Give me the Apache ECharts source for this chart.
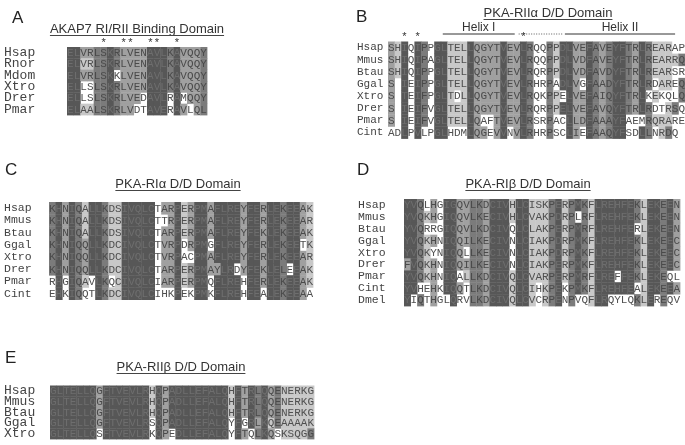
<!DOCTYPE html>
<html>
<head>
<meta charset="utf-8">
<script src="https://cdn.jsdelivr.net/npm/echarts@6/dist/echarts.min.js"></script>
<style>
  html, body { margin: 0; padding: 0; background: #fff; }
  #chart { width: 685px; height: 445px; }
</style>
</head>
<body>
<div id="chart"></div>
<script>
// shade levels: 0 = no box, 4 = darkest
const SHADES = ['#ffffff', '#c8c8c8', '#a0a0a0', '#7b7b7b', '#575757']
const INK = ['#4f4f4f', '#4f4f4f', '#4a4a4a', '#4a4a4a', '#6e6e6e']

// --- A: AKAP7 RI/RII binding domain
const akapNames = ['Hsap', 'Rnor', 'Mdom', 'Xtro', 'Drer', 'Pmar']
const akapSeqs = [
  'ELVRLSKRLVENAVLKAVQQY',
  'ELVRLSKRLVENAVLKAVQQY',
  'ELVRLSKKLVENAVLKAVQQY',
  'ELLSLSKRLVENAVLKAVQQY',
  'ELLSLSKRLVEDAVLRAMQQY',
  'ELAALSKRLVDTAVERAVLQL'
]
const akapBase = '442233432222444342223'
const akapFix = [[], [[2, 1], [3, 1]], [[7, 0]], [[2, 0], [3, 0]],
  [[2, 0], [3, 0], [11, 0], [15, 0], [17, 0]],
  [[2, 1], [3, 1], [10, 0], [11, 0], [15, 0], [18, 0]]]
const akapStars = [5, 8, 9, 12, 13, 16]

// --- B: PKA-RIIalpha D/D domain
const r2aNames = ['Hsap', 'Mmus', 'Btau', 'Ggal', 'Xtro', 'Drer', 'Pmar', 'Cint']
const r2aSeqs = [
  'SHIQIPPGLTELLQGYTVEVLRQQPPDLVEFAVEYFTRLREARAP',
  'SHIQIPAGLTELLQGYTVEVLRQQPPDLVDFAVEYFTRLREARRQ',
  'SHIQIPPGLTELLQGYTVEVLRQRPPDLVDFAVDYFTRLREARSR',
  'S-IEIPPGLTELLQGYTVEVLRHRPADLVGFAADYFTRLRDAREQ',
  'S-TEIFPGLTDLLQGYTVEVLRQKPPELVEFAIQYFTRLKEKQLQ',
  'S-IEIFVGLTELLQGYTVEVLRQRPPELVEFAVQYFTRLRDTRSQ',
  'S-IEIFVGLTELLQAFTVEVLRSRPACLLDFAAAYFAEMRQRARE',
  'ADLPVLPGLHDMLQGEVVNVLRHRPSCLIEFAAQYFSDLLNRDQ-'
]
const r2aBase = '214043044111422224224300314422432344324311100'
const r2aFix = [[], [[43, 1], [44, 3]], [],
  [[25, 0], [29, 0], [40, 0], [44, 3]],
  [[10, 0], [26, 0], [39, 0], [41, 0], [42, 0], [44, 3]],
  [[40, 0], [41, 0], [43, 3]],
  [[14, 0], [15, 0], [25, 0], [26, 0], [36, 0], [37, 0], [38, 0]],
  [[0, 0], [1, 0], [3, 0], [5, 0], [9, 0], [10, 0], [11, 0], [15, 0], [18, 0], [22, 0],
    [25, 0], [26, 0], [29, 0], [36, 0], [37, 0], [40, 0], [42, 3]]]
const r2aStars = [2, 4, 20]
// helix annotation spans, in column units
const r2aHelix = [[8.3, 19.2], [19.8, 26.4], [26.8, 43.5]]
const r2aHelixText = ['Helix I', '', 'Helix II']

// --- C: PKA-RIalpha D/D domain
const r1aNames = ['Hsap', 'Mmus', 'Btau', 'Ggal', 'Xtro', 'Drer', 'Pmar', 'Cint']
const r1aSeqs = [
  'KHNIQALLKDSIVQLCTARPERPMAFLREYFERLEKEEAK',
  'KHNIQALLKDSIVQLCTTRPERPMAFLREYFERLEKEEAR',
  'KHNIQALLKDSIVQLCTARPERPMAFLREYFEKLEKEEAK',
  'KHNIQQLLKDCIVQLCTVRPDRPMGFLREYFERLEKEETK',
  'KHNIQQLLKDCIVQLCTVRPACPMAFLREYFERLEKEEAR',
  'KHNIQQLLKDCIVQLCTARPERPMAYLRDYFEKLELEEAK',
  'RHGIQAVLKQCIVQLCIARPERPMQFLREHFERLEKEEAK',
  'EHKIQQTLKDCIVQLCIHKPEKPMKFLREHFEALEKEEAA'
]
const r1aBase = '3424314431144444022412442444424424434421'
const r1aFix = [[], [[17, 0]], [],
  [[5, 2], [20, 0], [24, 0], [38, 0]],
  [[5, 2], [20, 0], [21, 0]],
  [[5, 2], [25, 2], [28, 0], [36, 0]],
  [[0, 0], [2, 0], [6, 0], [9, 0], [16, 0], [24, 0], [29, 0]],
  [[0, 0], [2, 0], [5, 0], [6, 0], [16, 0], [17, 0], [18, 0], [20, 0], [21, 0], [24, 0],
    [29, 0], [32, 0], [39, 0]]]

// --- D: PKA-RIbeta D/D domain
const r1bNames = ['Hsap', 'Mmus', 'Btau', 'Ggal', 'Xtro', 'Drer', 'Pmar', 'Cint', 'Dmel']
const r1bSeqs = [
  'YVQLHGIGQVLKDCIVHLCISKPERPMKFLREHFEKLEKEEN',
  'YVQKHGIQQVLKECIVHLCVAKPDRPLRFLREHFEKLEKEEN',
  'YVQRRGIQQVLKDCIVQLCLAKPERPMRFLREHFERLEKEEN',
  'YVQKHNIQQILKECIVNLCIAKPDRPMKFLREHFEKLEKEEC',
  'YVQKYNIQQLLKECIVNLCIAKPDRPMKFLREHFEKLEKEEC',
  'FVQKHNIQQILKECIVNLCIAKPERPMKFLREHFEKLEKEEC',
  'YVQKHNIQALLKDCIVQLCVARPERPMRFLREFFEKLEKEQL',
  'YVHEHKIQQTLKDCIVQLCIHKPEKPMKFLREHFEALEKEEA',
  'YIQTHGLQRVLKDCIVQLCVCRPENPVQFLRQYLQKLEREQV'
]
const r1bBase = '443120442233244414411134134314444443144342' + '0'
const r1bFix = [[[3, 0]], [[26, 0]], [[3, 0], [4, 0], [16, 0], [35, 0]], [[16, 0]],
  [[4, 0], [9, 0], [16, 0]], [[0, 2], [16, 0]],
  [[8, 0], [9, 1], [32, 0], [40, 0], [41, 0]],
  [[2, 0], [3, 0], [5, 0], [9, 0], [20, 0], [21, 1], [24, 0], [35, 0], [36, 1]],
  [[1, 0], [3, 0], [6, 0], [8, 0], [9, 0], [19, 1], [20, 0], [24, 0], [26, 0], [27, 0],
    [31, 0], [32, 0], [33, 0], [34, 0], [38, 0], [40, 0], [41, 0]]]

// --- E: PKA-RIIbeta D/D domain
const r2bNames = ['Hsap', 'Mmus', 'Btau', 'Ggal', 'Xtro']
const r2bSeqs = [
  'GLTELLQGFTVEVLRHQPADLLEFALQHFTRLQQENERKG',
  'GLTELLQGFTVEVLRHQPADLLEFALQHFTRLQQENERKG',
  'GLTELLQGFTVEVLRHQPADLLEFALQHFTRLQQENERKG',
  'GLTELLQGFTVEVLRSQPADLLEFALQYFGRLKQEAAAAK',
  'GLTELLQSFTVEVLRKQPEDLLEFALQYFTQLKQSKSQGG'
]
const r2bBase = '4444444244444441424444444441424342311111'
const r2bFix = [[], [], [], [[15, 0], [27, 0], [29, 0], [31, 2], [33, 1]],
  [[7, 0], [15, 0], [18, 0], [27, 0], [30, 0], [34, 0], [39, 3]]]

const panels = [
  { tag: 'A', title: 'AKAP7 RI/RII Binding Domain', names: akapNames, seqs: akapSeqs, base: akapBase, fix: akapFix, stars: akapStars,
    box: { left: 67, top: 47, width: 140, height: 68 }, labelX: 4, labelSize: 13, tagPos: [12, 19], titlePos: [137, 29] },
  { tag: 'B', title: 'PKA-RII\u03b1 D/D Domain', names: r2aNames, seqs: r2aSeqs, base: r2aBase, fix: r2aFix, stars: r2aStars,
    box: { left: 388, top: 41.5, width: 297, height: 97 }, labelX: 357, labelSize: 11, tagPos: [356, 18], titlePos: [548, 13] },
  { tag: 'C', title: 'PKA-RI\u03b1 D/D Domain', names: r1aNames, seqs: r1aSeqs, base: r1aBase, fix: r1aFix, stars: [],
    box: { left: 49, top: 202, width: 264, height: 97.6 }, labelX: 4, labelSize: 11.5, tagPos: [5, 171], titlePos: [178, 184] },
  { tag: 'D', title: 'PKA-RI\u03b2 D/D Domain', names: r1bNames, seqs: r1bSeqs, base: r1bBase, fix: r1bFix, stars: [],
    box: { left: 404, top: 199, width: 276, height: 107 }, labelX: 358, labelSize: 11.5, tagPos: [357, 171], titlePos: [528, 184] },
  { tag: 'E', title: 'PKA-RII\u03b2 D/D Domain', names: r2bNames, seqs: r2bSeqs, base: r2bBase, fix: r2bFix, stars: [],
    box: { left: 50, top: 385.5, width: 264, height: 53.5 }, labelX: 4, labelSize: 13, tagPos: [5, 359], titlePos: [181, 367] }
]

const measure = document.createElement('canvas').getContext('2d')
measure.font = '13px "Liberation Sans"'

const grid = [], xAxis = [], yAxis = [], series = [], graphic = []

panels.forEach((p, i) => {
  const ncol = p.seqs[0].length
  grid.push({ ...p.box })
  xAxis.push({
    gridIndex: i, type: 'category', position: 'top',
    data: Array.from({ length: ncol }, (_, k) => String(k)),
    axisLine: { show: false }, axisTick: { show: false }, splitLine: { show: false },
    axisLabel: {
      interval: 0, margin: -1, color: '#333', fontSize: 11, fontFamily: 'Liberation Sans',
      formatter: (v, idx) => (p.stars.includes(idx) ? '*' : '')
    }
  })
  yAxis.push({
    gridIndex: i, type: 'category', inverse: true, data: p.names,
    axisLine: { show: false }, axisTick: { show: false }, splitLine: { show: false },
    axisLabel: {
      interval: 0, align: 'left', margin: p.box.left - p.labelX, color: '#444',
      fontFamily: 'Liberation Mono', fontSize: p.labelSize
    }
  })

  const cells = [], letters = []
  p.seqs.forEach((seq, r) => {
    const lv = p.base.split('').map(Number)
    p.fix[r].forEach(([c, l]) => { lv[c] = l })
    seq.split('').forEach((ch, c) => {
      cells.push([c, r, ch === '-' ? 0 : lv[c]])
      letters.push(ch === '-' ? '' : ch)
    })
  })
  series.push({
    type: 'custom', xAxisIndex: i, yAxisIndex: i, data: cells, silent: true,
    renderItem: (params, api) => {
      const pt = api.coord([api.value(0), api.value(1)])
      const sz = api.size([1, 1])
      const lvl = api.value(2)
      const kids = []
      if (lvl > 0) {
        kids.push({
          type: 'rect',
          shape: { x: pt[0] - sz[0] / 2, y: pt[1] - sz[1] / 2, width: sz[0] + 0.4, height: sz[1] + 0.4 },
          style: { fill: SHADES[lvl] }
        })
      }
      kids.push({
        type: 'text', x: pt[0], y: pt[1] + 0.5,
        style: {
          text: letters[params.dataIndex], align: 'center', verticalAlign: 'middle',
          textAlign: 'center', textVerticalAlign: 'middle',
          font: '11px "Liberation Mono"', fill: INK[lvl]
        }
      })
      return { type: 'group', children: kids }
    }
  })

  // panel letter, title and its underline
  graphic.push({
    type: 'text', left: p.tagPos[0], top: p.tagPos[1] - 9,
    style: { text: p.tag, font: '17px "Liberation Sans"', fill: '#222' }
  })
  const tw = measure.measureText(p.title).width
  graphic.push({
    type: 'text', x: p.titlePos[0], y: p.titlePos[1],
    style: { text: p.title, font: '13px "Liberation Sans"', fill: '#333', align: 'center', verticalAlign: 'middle', textAlign: 'center', textVerticalAlign: 'middle' }
  })
  graphic.push({
    type: 'line',
    shape: { x1: p.titlePos[0] - tw / 2, y1: p.titlePos[1] + 6.5, x2: p.titlePos[0] + tw / 2, y2: p.titlePos[1] + 6.5 },
    style: { stroke: '#444', lineWidth: 1 }
  })
})

// helix bars above panel B
series.push({
  type: 'custom', xAxisIndex: 1, yAxisIndex: 1, data: r2aHelix, silent: true,
  renderItem: (params, api) => {
    const c0 = api.coord([0, 0])
    const w = api.size([1, 1])[0]
    const x1 = c0[0] - w / 2 + api.value(0) * w
    const x2 = c0[0] - w / 2 + api.value(1) * w
    const y = params.coordSys.y - 7.5
    const label = r2aHelixText[params.dataIndex]
    const kids = [{
      type: 'line', shape: { x1, y1: y, x2, y2: y },
      style: { stroke: '#333', lineWidth: label ? 1 : 0.8, lineDash: label ? null : [1, 1.5] }
    }]
    if (label) {
      kids.push({
        type: 'text', x: (x1 + x2) / 2, y: y - 6.5,
        style: { text: label, font: '12px "Liberation Sans"', fill: '#333', align: 'center', verticalAlign: 'middle', textAlign: 'center', textVerticalAlign: 'middle' }
      })
    }
    return { type: 'group', children: kids }
  }
})

const chart = echarts.init(document.getElementById('chart'))
chart.setOption({ animation: false, grid, xAxis, yAxis, series, graphic })
</script>
</body>
</html>
